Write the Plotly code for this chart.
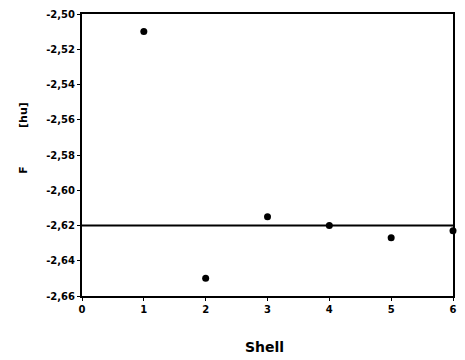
import plotly.graph_objects as go

shell = [1, 2, 3, 4, 5, 6]
energy = [-2.510, -2.650, -2.615, -2.620, -2.627, -2.623]
ref_level = -2.62
y_ticks = [-2.50, -2.52, -2.54, -2.56, -2.58, -2.60, -2.62, -2.64, -2.66]
y_tick_labels = ["-2,50", "-2,52", "-2,54", "-2,56", "-2,58", "-2,60", "-2,62", "-2,64", "-2,66"]
x_ticks = [0, 1, 2, 3, 4, 5, 6]
x_tick_labels = ["0", "1", "2", "3", "4", "5", "6"]

W, H = 465, 360
L, R, T, B = 82, 8, 12, 64
pw, ph = W - L - R, H - T - B

font_fam = "DejaVu Sans, sans-serif"

fig = go.Figure()
fig.add_trace(go.Scatter(
    x=shell, y=energy, mode="markers",
    marker=dict(color="black", size=7, symbol="circle"),
    cliponaxis=False, showlegend=False,
))
fig.add_shape(type="line", xref="paper", yref="y", x0=0, x1=1,
              y0=ref_level, y1=ref_level, line=dict(color="black", width=2))

fig.update_layout(
    width=W, height=H,
    margin=dict(l=L, r=R, t=T, b=B),
    paper_bgcolor="white", plot_bgcolor="white",
    font=dict(family=font_fam, color="black"),
    xaxis=dict(range=[0, 6], tickvals=x_ticks,
               ticktext=[f"<b>{t}</b>" for t in x_tick_labels],
               showgrid=False, zeroline=False,
               showline=True, linecolor="black", linewidth=2, mirror=True,
               ticks="outside", ticklen=3, tickwidth=1, tickcolor="black",
               tickfont=dict(family=font_fam, size=10)),
    yaxis=dict(range=[-2.66, -2.50], tickvals=y_ticks,
               ticktext=[f"<b>{t}</b>" for t in y_tick_labels],
               showgrid=False, zeroline=False,
               showline=True, linecolor="black", linewidth=2, mirror=True,
               ticks="outside", ticklen=3, tickwidth=1, tickcolor="black",
               tickfont=dict(family=font_fam, size=10)),
    annotations=[
        dict(text="<b>Shell</b>", xref="paper", yref="paper", x=(266 - L) / pw,
             y=-(347 - (T + ph)) / ph, xanchor="center", yanchor="middle",
             showarrow=False, font=dict(family=font_fam, size=14)),
        dict(text="<b>F" + "&nbsp;" * 10 + "[hu]</b>", xref="paper", yref="paper",
             x=(22 - L) / pw, y=((T + ph) - 137) / ph, textangle=-90,
             xanchor="center", yanchor="middle", showarrow=False,
             font=dict(family=font_fam, size=11)),
    ],
)

fig.write_html("out.html")
